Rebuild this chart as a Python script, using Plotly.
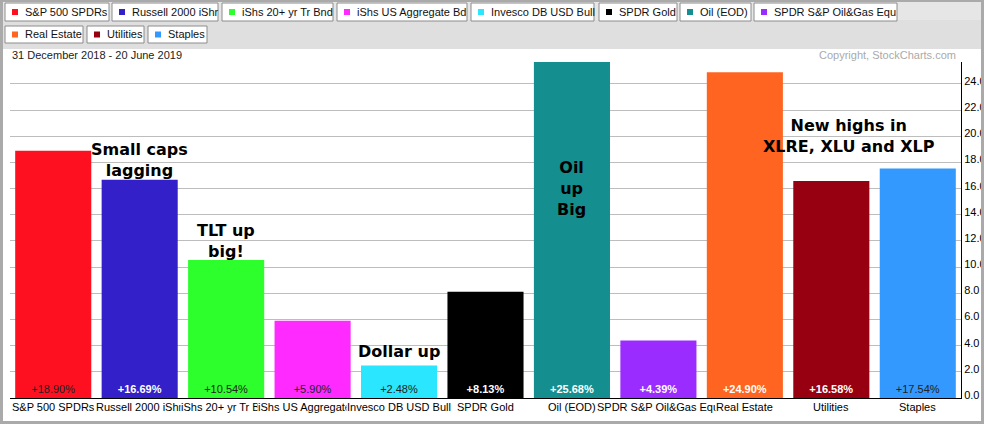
import plotly.graph_objects as go

# ---------------- data ----------------
categories = ["S&P 500 SPDRs", "Russell 2000 iShr", "iShs 20+ yr Tr Bnd", "iShs US Aggregate Bd",
              "Invesco DB USD Bull", "SPDR Gold", "Oil (EOD)", "SPDR S&P Oil&Gas Equ",
              "Real Estate", "Utilities", "Staples"]
values = [18.90, 16.69, 10.54, 5.90, 2.48, 8.13, 25.68, 4.39, 24.90, 16.58, 17.54]
bar_colors = ["#FF1020", "#3320C8", "#2CFF2C", "#FF2AFF", "#2AE6FF", "#000000",
              "#148E8E", "#9A2CFF", "#FF6420", "#960010", "#3399FF"]
light_label = [False, True, False, False, False, True, True, True, True, True, False]
y_ticks = [0, 2, 4, 6, 8, 10, 12, 14, 16, 18, 20, 22, 24]
legend_row1 = categories[:8]
legend_row2 = categories[8:]
date_label = "31 December 2018 - 20 June 2019"
copyright_label = "Copyright, StockCharts.com"
notes = ["Small caps<br>lagging", "TLT up<br>big!", "Dollar up", "Oil<br>up<br>Big",
         "New highs in<br>XLRE, XLU and XLP"]

# ---------------- layout geometry ----------------
W, H = 984, 424
L, R, T, B = 10, 23, 62, 26
PW, PH = W - L - R, H - T - B


def px(x):
    return (x - L) / PW


def py(y):
    return (H - B - y) / PH


FONT = "Liberation Sans, Arial, sans-serif"
FRAME = "#aaaaaa"

text_vals = []
text_cols = []
for v, lt in zip(values, light_label):
    s = f"+{v:.2f}%"
    text_vals.append(f"<b>{s}</b>" if lt else s)
    text_cols.append("#ffffff" if lt else "#222222")

fig = go.Figure(go.Bar(
    x=categories, y=values,
    marker=dict(color=bar_colors, line=dict(width=0)),
    text=text_vals, textposition="inside", insidetextanchor="start",
    textangle=0, textfont=dict(family=FONT, size=11, color=text_cols),
    constraintext="none", hoverinfo="skip",
))

shapes = []
# header + white body on gray frame
shapes.append(dict(type="rect", xref="paper", yref="paper", x0=px(3), x1=px(981), y0=py(2), y1=py(49),
                   fillcolor="#dfdfdf", line=dict(width=0), layer="below"))
shapes.append(dict(type="rect", xref="paper", yref="paper", x0=px(3), x1=px(981), y0=py(2), y1=py(20),
                   fillcolor="#e6e6e6", line=dict(width=0), layer="below"))
shapes.append(dict(type="rect", xref="paper", yref="paper", x0=px(3), x1=px(981), y0=py(49), y1=py(421),
                   fillcolor="#ffffff", line=dict(width=0), layer="below"))
# right frame strip drawn above (cuts the tick labels like the reference)
shapes.append(dict(type="rect", xref="paper", yref="paper", x0=px(981), x1=px(986), y0=py(-2), y1=py(426),
                   fillcolor=FRAME, line=dict(width=0), layer="above"))

annotations = []

# legend buttons
row1_boxes = [(5, 109), (112, 218), (222, 333), (337, 467), (471, 594), (599, 677), (680, 751), (754, 897)]
row2_boxes = [(5, 83), (87, 144), (148, 207)]
rows = [(legend_row1, row1_boxes, 3, 21, bar_colors[:8]), (legend_row2, row2_boxes, 26, 43, bar_colors[8:])]
for names, boxes, y0, y1, cols in rows:
    for name, (x0, x1), c in zip(names, boxes, cols):
        shapes.append(dict(type="rect", xref="paper", yref="paper", x0=px(x0), x1=px(x1), y0=py(y1), y1=py(y0),
                           fillcolor="#ffffff", line=dict(color="#8c8c8c", width=1)))
        yc = (y0 + y1) / 2
        shapes.append(dict(type="rect", xref="paper", yref="paper", x0=px(x0 + 7), x1=px(x0 + 13),
                           y0=py(yc + 3), y1=py(yc - 3), fillcolor=c, line=dict(width=0)))
        annotations.append(dict(text=name, xref="paper", yref="paper", x=px(x0 + 18), y=py(yc),
                                xanchor="left", yanchor="middle", showarrow=False,
                                font=dict(family=FONT, size=11, color="#111111")))

# date + copyright
annotations.append(dict(text=date_label, xref="paper", yref="paper", x=px(10), y=py(55),
                        xanchor="left", yanchor="middle", showarrow=False,
                        font=dict(family=FONT, size=11, color="#222222")))
annotations.append(dict(text=copyright_label, xref="paper", yref="paper", x=px(958), y=py(55),
                        xanchor="right", yanchor="middle", showarrow=False,
                        font=dict(family=FONT, size=11, color="#aaaaaa")))

# category labels under bars (white background so later labels cover earlier)
for c in categories:
    annotations.append(dict(text=c, xref="x", yref="y", x=c, y=0, yanchor="top", xanchor="center",
                            yshift=-2, showarrow=False, bgcolor="#ffffff", borderpad=0,
                            font=dict(family=FONT, size=11, color="#000000")))

# bold commentary notes
note_pos = [(1, 18.19), (2, 12.0), (4, 3.54), (6, 16.03), (9.21, 20.02)]
for t, (xx, yy) in zip(notes, note_pos):
    annotations.append(dict(text=f"<b>{t}</b>", xref="x", yref="y", x=xx, y=yy,
                            xanchor="center", yanchor="middle", showarrow=False,
                            font=dict(family="DejaVu Sans, Verdana, sans-serif", size=16, color="#000000")))

fig.update_layout(
    width=W, height=H, autosize=False,
    margin=dict(l=L, r=R, t=T, b=B, pad=0, autoexpand=False),
    paper_bgcolor=FRAME, plot_bgcolor="rgba(0,0,0,0)",
    bargap=0.12, showlegend=False,
    shapes=shapes, annotations=annotations,
    xaxis=dict(type="category", showgrid=False, showline=True, linecolor="#000000", linewidth=1,
               showticklabels=False, ticks="", fixedrange=True, range=[-0.5, 10.5], automargin=False),
    yaxis=dict(side="right", range=[0, max(values)], tickvals=y_ticks, tickformat=".1f", ticksuffix="%",
               showgrid=True, gridcolor="#bdbdbd", gridwidth=1, zeroline=False,
               showline=True, linecolor="#000000", linewidth=1, ticks="",
               ticklabelshift=-3, automargin=False,
               tickfont=dict(family=FONT, size=11, color="#000000"), fixedrange=True),
    font=dict(family=FONT),
)

fig.write_html("out.html", config={"displayModeBar": False},
               post_script="document.body.style.margin='0';document.body.style.padding='0';document.body.style.overflow='hidden';")
